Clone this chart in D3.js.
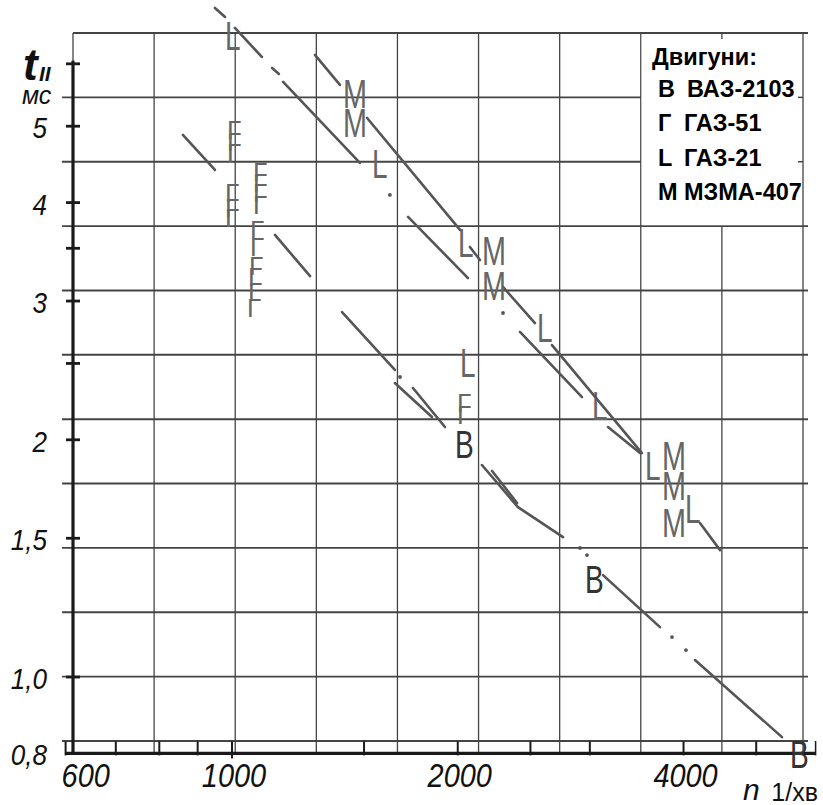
<!DOCTYPE html>
<html><head><meta charset="utf-8">
<script src="https://cdn.jsdelivr.net/npm/d3@7"></script>
<style>body{margin:0;background:#fff}svg{display:block}</style>
</head><body><svg id="c" width="823" height="805"></svg>
<script>
// ---- data ----
const xTicks = [600,700,800,900,1000,1500,2000,2500,3000,4000,5000];
const xLabels = [600,1000,2000,4000];
const yTicks = [1,1.5,2,2.5,3,3.5,4,5,6];
const yLabelValues = [0.8,1,1.5,2,3,4,5];
const yLabelTexts = ["0,8","1,0","1,5","2","3","4","5"];
const engineKeys = ["B","Г","L","M"];
const engineNames = ["ВАЗ-2103","ГАЗ-51","ГАЗ-21","МЗМА-407"];
const legendTitle = "Двигуни:";

// B – ВАЗ-2103
const segB = [
  [[1649,2.361],[1848,2.138]],
  [[2154,1.858],[2406,1.643],[2763,1.505]],
  [[2222,1.826],[2399,1.663]],
  [[3124,1.347],[3721,1.157]],
  [[4143,1.051],[5412,0.839]]
];
const dotB = [[2911,1.458],[2974,1.428],[3861,1.124],[4030,1.082]];
const markB = [[1983,1.896],[2956,1.278],[5546,0.766]];

// Г – ГАЗ-51
const segG = [
  [[860,4.874],[949,4.400]],
  [[1141,3.639],[1271,3.227]],
  [[1402,2.905],[1649,2.453]],
  [[1743,2.327],[1923,2.076]]
];
const dotG = [[1675,2.403]];
const markG = [[985,4.818],[985,4.652],[985,4.505],[979,4.008],[979,3.836],[979,3.725],
  [1067,4.261],[1067,4.126],[1067,4.008],[1067,3.869],
  [1057,3.596],[1057,3.421],[1054,3.236],[1050,3.134],[1050,3.000],[1047,2.863],
  [1995,2.169],[1995,2.095]];

// L – ГАЗ-21
const segL = [
  [[949,7.064],[979,6.880]],
  [[1009,6.664],[1096,6.122]],
  [[1131,5.928],[1155,5.825]],
  [[1170,5.690],[1481,4.492]],
  [[1717,3.836],[2064,3.208]],
  [[2421,2.741],[2929,2.266]],
  [[3172,2.076],[3500,1.924]]
];
const dotL = [[1624,4.090],[2298,2.897]];
const markL = [[979,6.248],[1537,4.298],[2001,3.412],[2551,2.661],[2014,2.403],[3020,2.119],[3554,1.778],[4018,1.568]];

// M – МЗМА-407
const segM = [
  [[1290,6.158],[1393,5.641]],
  [[1514,5.122],[2014,3.693]],
  [[2076,3.514],[2141,3.382]],
  [[2298,3.126],[2535,2.813]],
  [[2671,2.638],[3521,1.924]],
  [[4207,1.568],[4475,1.449]]
];
const dotM = [];
const markM = [[1406,5.274],[1406,4.846],[2154,3.333],[2154,3.009],[3744,1.831],[3744,1.677],[3744,1.505]];

// ---- chart ----
const svg = d3.select("#c");
const x = d3.scaleLog().domain([600,6000]).range([65.6,815.6]);
const y = d3.scaleLog().domain([0.8,6.6]).range([753.4,31.2]);
// graph-paper grid (uniform millimetre paper)
const gx = d3.scaleLinear().domain([0,9]).range([73,803]);
const gy = d3.scaleLinear().domain([0,11]).range([33,741]);

const grid = svg.append("g").attr("stroke","#444");
grid.selectAll("line.h").data(d3.range(12)).join("line")
  .attr("x1", k => k===0 ? gx(0) : 62)
  .attr("x2", k => (k>0 && k<3) ? gx(7) : 808)
  .attr("y1", k => gy(k)).attr("y2", k => gy(k))
  .attr("stroke-width", 1.9);
grid.selectAll("line.v").data(d3.range(10)).join("line")
  .attr("x1", k => gx(k)).attr("x2", k => gx(k))
  .attr("y1", k => k===8 ? gy(3) : gy(0))
  .attr("y2", y(0.8))
  .attr("stroke-width", 1.3);

// axes
const ax = svg.append("g").attr("stroke","#1a1a1a");
ax.append("line").attr("x1",gx(0)).attr("x2",gx(0)).attr("y1",y(6)-3).attr("y2",y(0.8)+1).attr("stroke-width",3.2);
ax.append("line").attr("x1",x(600)).attr("x2",x(6000)).attr("y1",y(0.8)).attr("y2",y(0.8)).attr("stroke-width",3.2);
ax.append("line").attr("x1",x(6000)).attr("x2",x(6000)).attr("y1",gy(11)).attr("y2",y(0.8)+2).attr("stroke-width",1.5);
ax.selectAll("line.yt").data(yTicks).join("line")
  .attr("x1",gx(0)-7).attr("x2",gx(0)+7)
  .attr("y1",d=>y(d)).attr("y2",d=>y(d)).attr("stroke-width",2.8);
ax.selectAll("line.xt").data(xTicks).join("line")
  .attr("x1",d=>x(d)).attr("x2",d=>x(d))
  .attr("y1",y(0.8)-12).attr("y2",d=> d===1000 ? y(0.8)+5 : y(0.8)+2).attr("stroke-width",2);

// axis labels
const lab = svg.append("g").attr("font-family","'Liberation Sans',Arial,sans-serif").attr("fill","#111");
lab.selectAll("text.yl").data(yLabelValues).join("text")
  .attr("transform", d => `translate(47,${y(d)+12}) scale(0.9,1)`)
  .attr("text-anchor","end").attr("font-size",29).attr("font-style","italic")
  .text((d,i)=>yLabelTexts[i]);
lab.selectAll("text.xl").data(xLabels).join("text")
  .attr("transform", (d,i) => `translate(${i===0 ? x(d)-4 : x(d)+2},787) scale(0.85,1)`)
  .attr("text-anchor",(d,i)=> i===0 ? "start" : "middle")
  .attr("font-size",34).attr("font-style","italic")
  .text(d=>d);
lab.append("text").attr("x",743).attr("y",800).attr("font-size",30).attr("font-style","italic").text("n");
lab.append("text").attr("x",818).attr("y",801).attr("text-anchor","end").attr("font-size",25).text("1/хв");
lab.append("text").attr("x",23).attr("y",80).attr("font-size",44).attr("font-style","italic").attr("font-weight","bold").text("t");
lab.append("text").attr("x",39).attr("y",81).attr("font-size",21).attr("font-style","italic").attr("font-weight","bold").text("II");
lab.append("text").attr("x",22).attr("y",104).attr("font-size",25).attr("font-style","italic").text("мс");

// series
const series = [
  {key:engineKeys[0], seg:segB, dots:dotB, marks:markB, size:38, sx:0.74, col:"#333"},
  {key:engineKeys[1], seg:segG, dots:dotG, marks:markG, size:26, sx:1.0, col:"#666"},
  {key:engineKeys[2], seg:segL, dots:dotL, marks:markL, size:40, sx:0.7, col:"#666"},
  {key:engineKeys[3], seg:segM, dots:dotM, marks:markM, size:40, sx:0.72, col:"#666"}
];
const line = d3.line().x(d=>x(d[0])).y(d=>y(d[1]));
series.forEach(s => {
  const g = svg.append("g");
  g.selectAll("path").data(s.seg).join("path")
    .attr("d", line).attr("fill","none").attr("stroke","#555")
    .attr("stroke-width",2.6).attr("stroke-linecap","round").attr("stroke-linejoin","round");
  g.selectAll("circle").data(s.dots).join("circle")
    .attr("cx",d=>x(d[0])).attr("cy",d=>y(d[1])).attr("r",1.9).attr("fill","#555");
  g.selectAll("text").data(s.marks).join("text")
    .attr("transform", d => `translate(${x(d[0])},${y(d[1])}) scale(${s.sx},1)`)
    .attr("font-family","'Liberation Sans',Arial,sans-serif")
    .attr("font-size", s.size).attr("fill", s.col)
    .text(s.key);
});

// legend
svg.append("rect").attr("x",gx(7)+1).attr("y",gy(0)+1.5).attr("width",gx(9)-gx(7)-2).attr("height",gy(3)-gy(0)-2.5).attr("fill","#fff");
svg.append("line").attr("x1",gx(8)).attr("x2",gx(8)).attr("y1",gy(0)).attr("y2",gy(0)+6).attr("stroke","#444").attr("stroke-width",1.3);
[1,2].forEach(k => svg.append("line").attr("x1",gx(9)-5).attr("x2",gx(9)).attr("y1",gy(k)).attr("y2",gy(k)).attr("stroke","#444").attr("stroke-width",1.5));
const leg = svg.append("g").attr("font-family","'Liberation Sans',Arial,sans-serif").attr("font-weight","bold").attr("font-size",23.5).attr("fill","#000");
leg.append("text").attr("x",652).attr("y",65).text(legendTitle);
const legY = d3.scaleLinear().domain([0,3]).range([97,200]);
leg.selectAll("text.k").data(engineKeys).join("text").attr("x",658).attr("y",(d,i)=>legY(i)).text(d=>d);
leg.selectAll("text.n").data(engineNames).join("text").attr("x",(d,i)=> i===0 ? 687 : 684).attr("y",(d,i)=>legY(i)).text(d=>d);
</script>
</body></html>
